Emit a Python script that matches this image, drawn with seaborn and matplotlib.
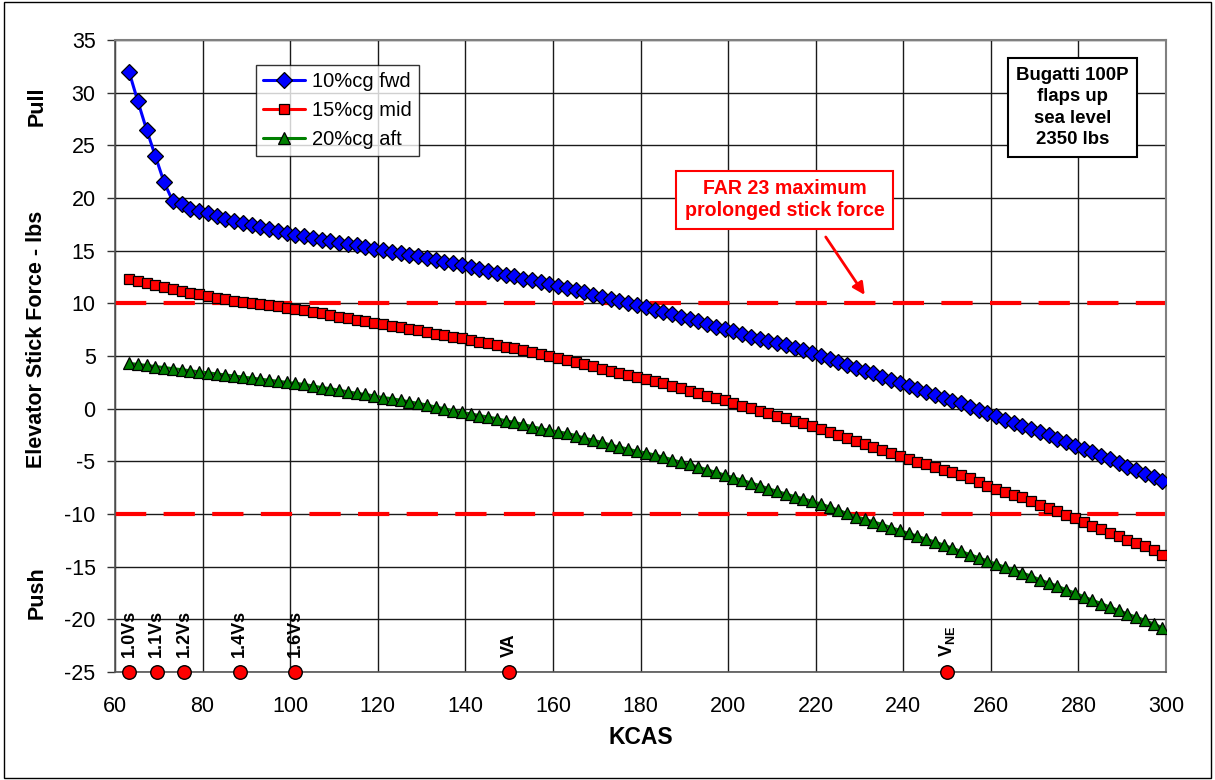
import matplotlib
matplotlib.use("Agg")
import matplotlib.pyplot as plt
import matplotlib.patches as mpatches
import matplotlib.transforms as mtrans
import seaborn as sns

# ---------------- data ----------------
KCAS = [63.2, 65.2, 67.2, 69.2, 71.2, 73.2, 75.2, 77.2, 79.2, 81.2,
        83.2, 85.2, 87.2, 89.2, 91.2, 93.2, 95.2, 97.2, 99.2, 101.2,
        103.2, 105.2, 107.2, 109.2, 111.2, 113.2, 115.2, 117.2, 119.2, 121.2,
        123.2, 125.2, 127.2, 129.2, 131.2, 133.2, 135.2, 137.2, 139.2, 141.2,
        143.2, 145.2, 147.2, 149.2, 151.2, 153.2, 155.2, 157.2, 159.2, 161.2,
        163.2, 165.2, 167.2, 169.2, 171.2, 173.2, 175.2, 177.2, 179.2, 181.2,
        183.2, 185.2, 187.2, 189.2, 191.2, 193.2, 195.2, 197.2, 199.2, 201.2,
        203.2, 205.2, 207.2, 209.2, 211.2, 213.2, 215.2, 217.2, 219.2, 221.2,
        223.2, 225.2, 227.2, 229.2, 231.2, 233.2, 235.2, 237.2, 239.2, 241.2,
        243.2, 245.2, 247.2, 249.2, 251.2, 253.2, 255.2, 257.2, 259.2, 261.2,
        263.2, 265.2, 267.2, 269.2, 271.2, 273.2, 275.2, 277.2, 279.2, 281.2,
        283.2, 285.2, 287.2, 289.2, 291.2, 293.2, 295.2, 297.2, 299.2]

cg_fwd = [32.0, 29.2, 26.5, 24.0, 21.5, 19.7, 19.4, 19.0, 18.75, 18.55,
          18.3, 18.05, 17.85, 17.65, 17.45, 17.25, 17.05, 16.9, 16.7, 16.5,
          16.35, 16.2, 16.05, 15.9, 15.75, 15.6, 15.5, 15.35, 15.2, 15.05,
          14.9, 14.75, 14.6, 14.45, 14.3, 14.15, 13.95, 13.8, 13.6, 13.45,
          13.25, 13.05, 12.9, 12.7, 12.55, 12.35, 12.2, 12.0, 11.85, 11.65,
          11.5, 11.3, 11.05, 10.8, 10.6, 10.4, 10.25, 10.05, 9.85, 9.65,
          9.4, 9.15, 8.95, 8.7, 8.5, 8.3, 8.05, 7.8, 7.55, 7.35,
          7.1, 6.85, 6.65, 6.45, 6.25, 6.0, 5.8, 5.55, 5.3, 5.0,
          4.7, 4.45, 4.15, 3.85, 3.6, 3.35, 3.05, 2.75, 2.45, 2.15,
          1.9, 1.6, 1.3, 1.0, 0.75, 0.5, 0.2, -0.1, -0.4, -0.7,
          -1.05, -1.35, -1.65, -1.9, -2.2, -2.5, -2.85, -3.2, -3.55, -3.85,
          -4.15, -4.45, -4.8, -5.2, -5.55, -5.85, -6.2, -6.5, -6.85]

cg_mid = [12.3, 12.1, 11.9, 11.75, 11.55, 11.35, 11.15, 11.0, 10.85, 10.7,
          10.55, 10.4, 10.25, 10.1, 10.0, 9.95, 9.85, 9.7, 9.55, 9.45,
          9.35, 9.2, 9.05, 8.9, 8.75, 8.6, 8.45, 8.3, 8.15, 8.0,
          7.85, 7.75, 7.6, 7.45, 7.25, 7.1, 6.95, 6.8, 6.7, 6.55,
          6.35, 6.2, 6.05, 5.9, 5.75, 5.55, 5.4, 5.2, 5.0, 4.8,
          4.6, 4.4, 4.2, 4.05, 3.8, 3.55, 3.35, 3.2, 3.0, 2.85,
          2.6, 2.4, 2.15, 1.95, 1.7, 1.5, 1.25, 1.0, 0.8, 0.55,
          0.3, 0.05, -0.2, -0.45, -0.7, -0.9, -1.15, -1.4, -1.65, -1.95,
          -2.25, -2.5, -2.75, -3.05, -3.35, -3.6, -3.9, -4.2, -4.5, -4.8,
          -5.05, -5.25, -5.5, -5.8, -6.05, -6.3, -6.6, -6.95, -7.3, -7.65,
          -7.9, -8.15, -8.4, -8.75, -9.1, -9.45, -9.75, -10.05, -10.4, -10.75,
          -11.1, -11.45, -11.8, -12.1, -12.45, -12.75, -13.05, -13.4, -13.85]

cg_aft = [4.3, 4.2, 4.1, 4.0, 3.9, 3.8, 3.7, 3.6, 3.5, 3.4,
          3.3, 3.2, 3.1, 3.0, 2.9, 2.8, 2.7, 2.6, 2.5, 2.4,
          2.3, 2.15, 2.0, 1.9, 1.75, 1.6, 1.45, 1.35, 1.2, 1.05,
          0.95, 0.8, 0.65, 0.5, 0.35, 0.15, 0.0, -0.2, -0.35, -0.5,
          -0.65, -0.8, -0.95, -1.15, -1.3, -1.5, -1.7, -1.9, -2.05, -2.2,
          -2.35, -2.55, -2.8, -3.0, -3.2, -3.45, -3.65, -3.85, -4.05, -4.2,
          -4.4, -4.6, -4.85, -5.1, -5.3, -5.55, -5.8, -6.05, -6.3, -6.55,
          -6.8, -7.05, -7.3, -7.6, -7.85, -8.1, -8.35, -8.55, -8.8, -9.05,
          -9.35, -9.65, -9.95, -10.25, -10.5, -10.75, -11.0, -11.3, -11.55, -11.85,
          -12.1, -12.4, -12.65, -12.95, -13.25, -13.55, -13.85, -14.15, -14.45, -14.75,
          -15.05, -15.3, -15.6, -15.9, -16.25, -16.55, -16.85, -17.2, -17.5, -17.85,
          -18.2, -18.5, -18.85, -19.15, -19.5, -19.8, -20.1, -20.45, -20.8]

series_labels = ["10%cg fwd", "15%cg mid", "20%cg aft"]

speed_labels = ["1.0Vs", "1.1Vs", "1.2Vs", "1.4Vs", "1.6Vs", "VA",
                r"$\mathbf{V}_{\mathbf{NE}}$"]
speed_kcas = [63.2, 69.5, 75.8, 88.5, 101.1, 150.0, 250.0]
speed_force = [-25, -25, -25, -25, -25, -25, -25]

far_limits = [10, -10]

x_ticks = [60, 80, 100, 120, 140, 160, 180, 200, 220, 240, 260, 280, 300]
y_ticks = [35, 30, 25, 20, 15, 10, 5, 0, -5, -10, -15, -20, -25]

# ---------------- style ----------------
sns.set_theme(style="white")
plt.rcParams['font.family'] = ['Liberation Sans', 'DejaVu Sans']
plt.rcParams['mathtext.fontset'] = 'custom'
plt.rcParams['mathtext.rm'] = 'Liberation Sans'
plt.rcParams['mathtext.bf'] = 'Liberation Sans:bold'
plt.rcParams['lines.scale_dashes'] = False
plt.rcParams['axes.unicode_minus'] = False
plt.rcParams['text.color'] = 'black'

fig = plt.figure(figsize=(12.15, 7.8), dpi=100)
ax = fig.add_axes([115/1215, 1 - 672/780, (1166 - 115)/1215, (672 - 40)/780])

ax.set_xlim(60, 300)
ax.set_ylim(-25, 35)
ax.set_xticks(x_ticks)
ax.set_yticks(y_ticks)
ax.grid(True, color='#1a1a1a', linewidth=1.0)
ax.set_axisbelow(True)
for s in ['top', 'right']:
    ax.spines[s].set_color('#808080')
    ax.spines[s].set_linewidth(1.5)
for s in ['left', 'bottom']:
    ax.spines[s].set_color('#555555')
    ax.spines[s].set_linewidth(1.2)
ax.tick_params(axis='y', which='major', left=True, length=6, width=1,
               color='#333333', labelsize=15.5, pad=8, labelcolor='black')
ax.tick_params(axis='x', which='major', bottom=True, length=0, labelsize=15.5,
               pad=17, labelcolor='black')

# FAR 23 limits (dashed)
for lim in far_limits:
    ax.axhline(lim, color='#ff0000', linewidth=3.0, dashes=(22.5, 12.5),
               zorder=2)

# series
styles = [
    dict(color='#0000ff', marker='D', markersize=8.0),
    dict(color='#ff0000', marker='s', markersize=7.0),
    dict(color='#008000', marker='^', markersize=8.5),
]
for yvals, lab, st in zip([cg_fwd, cg_mid, cg_aft], series_labels, styles):
    sns.lineplot(x=KCAS, y=yvals, ax=ax, color=st['color'], marker=st['marker'],
                 markersize=st['markersize'], markerfacecolor=st['color'],
                 markeredgecolor='black', markeredgewidth=0.9, linewidth=2.2,
                 label=lab, zorder=4, estimator=None, sort=False)

# speed markers
sns.scatterplot(x=speed_kcas, y=speed_force, ax=ax, color='#ff0000',
                edgecolor='black', linewidth=1.0, s=95, zorder=6,
                clip_on=False, legend=False)
for xv, yv, lab in zip(speed_kcas, speed_force, speed_labels):
    ax.text(xv, yv + 1.4, lab, rotation=90, ha='center', va='bottom',
            fontsize=13, fontweight='bold', color='black', zorder=7)

# legend
leg = ax.legend(loc='upper left', bbox_to_anchor=(0.134, 0.961),
                borderaxespad=0, frameon=True, fancybox=False,
                edgecolor='black', fontsize=14.5, handlelength=2.1,
                labelspacing=0.5, borderpad=0.35, handletextpad=0.35)
leg.get_frame().set_linewidth(1.0)
leg.set_zorder(10)
for t in leg.get_texts():
    t.set_color('black')

# labels
ax.set_xlabel("KCAS", fontsize=16.5, fontweight='bold', labelpad=7,
              color='black')
ax.set_ylabel("")
blend = mtrans.blended_transform_factory(ax.transAxes, ax.transData)
ax.text(-0.0745, 6.55, "Elevator Stick Force - lbs", transform=blend,
        rotation=90, ha='center', va='center', fontsize=15.5,
        fontweight='bold')
ax.text(-0.0745, 28.7, "Pull", transform=blend, rotation=90, ha='center',
        va='center', fontsize=15.5, fontweight='bold')
ax.text(-0.0745, -17.5, "Push", transform=blend, rotation=90, ha='center',
        va='center', fontsize=15.5, fontweight='bold')

# info box
ax.text(278.7, 28.6, "Bugatti 100P\nflaps up\nsea level\n2350 lbs",
        ha='center', va='center', fontsize=13.4, fontweight='bold',
        linespacing=1.35, zorder=9,
        bbox=dict(boxstyle='square,pad=0.45', fc='white', ec='black', lw=1.5))

# FAR annotation
ax.text(212.9, 19.85, "FAR 23 maximum\nprolonged stick force",
        ha='center', va='center', fontsize=14.1, fontweight='bold',
        color='#ff0000', linespacing=1.15, zorder=9,
        bbox=dict(boxstyle='square,pad=0.45', fc='white', ec='#ff0000', lw=1.5))
ax.annotate("", xy=(231.2, 10.8), xytext=(222.3, 16.3),
            arrowprops=dict(arrowstyle='-|>', color='#ff0000', lw=2.0,
                            mutation_scale=18, shrinkA=0, shrinkB=0),
            zorder=9)

# outer border
fig.patches.append(mpatches.Rectangle((0.003, 0.003), 0.994, 0.994,
                                      transform=fig.transFigure, fill=False,
                                      edgecolor='black', linewidth=1.0))

fig.savefig("out.png", dpi=100)
